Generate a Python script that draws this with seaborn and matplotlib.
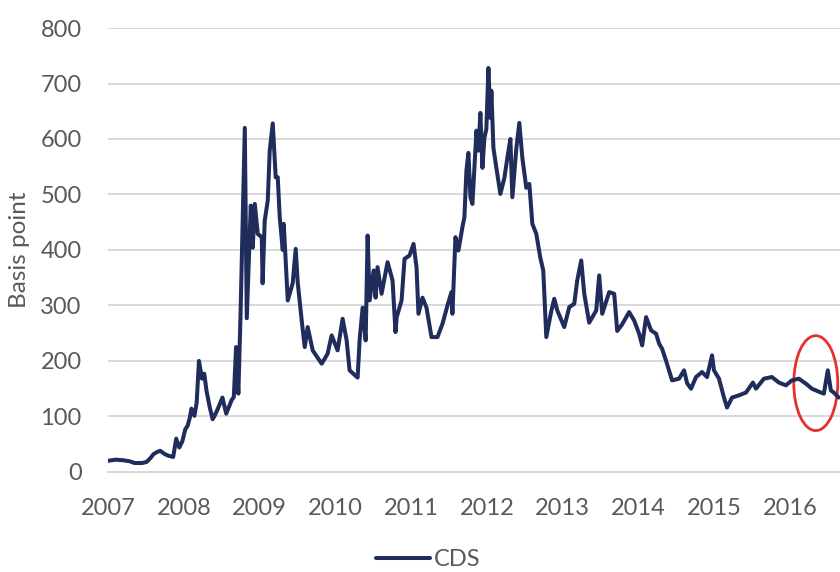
import matplotlib
matplotlib.use("Agg")
import matplotlib.pyplot as plt
from matplotlib.patches import Ellipse
import seaborn as sns
import pandas as pd

# CDS spread (decimal year, basis points)
years = [
    2007.00, 2007.10, 2007.20, 2007.29, 2007.35, 2007.45, 2007.51, 2007.56, 2007.60, 2007.65,
    2007.69, 2007.75, 2007.80, 2007.86, 2007.90, 2007.94, 2007.98, 2008.02, 2008.05, 2008.08,
    2008.10, 2008.14, 2008.17, 2008.20, 2008.24, 2008.27, 2008.30, 2008.34, 2008.38, 2008.41,
    2008.45, 2008.51, 2008.56, 2008.63, 2008.66, 2008.69, 2008.72, 2008.75, 2008.765, 2008.805,
    2008.831, 2008.884, 2008.910, 2008.937, 2008.976, 2009.029, 2009.040, 2009.068, 2009.108, 2009.134,
    2009.174, 2009.213, 2009.240, 2009.266, 2009.306, 2009.319, 2009.372, 2009.437, 2009.477, 2009.503,
    2009.556, 2009.596, 2009.635, 2009.701, 2009.820, 2009.898, 2009.951, 2010.030, 2010.096, 2010.149,
    2010.188, 2010.294, 2010.320, 2010.360, 2010.400, 2010.426, 2010.452, 2010.505, 2010.531, 2010.557,
    2010.610, 2010.689, 2010.755, 2010.794, 2010.810, 2010.874, 2010.913, 2010.979, 2011.032, 2011.071,
    2011.097, 2011.150, 2011.203, 2011.269, 2011.348, 2011.414, 2011.480, 2011.532, 2011.545, 2011.585,
    2011.624, 2011.677, 2011.703, 2011.730, 2011.756, 2011.783, 2011.809, 2011.835, 2011.862, 2011.888,
    2011.914, 2011.941, 2011.967, 2011.993, 2012.020, 2012.046, 2012.059, 2012.086, 2012.125, 2012.178,
    2012.231, 2012.270, 2012.310, 2012.336, 2012.389, 2012.428, 2012.468, 2012.520, 2012.560, 2012.600,
    2012.652, 2012.705, 2012.744, 2012.784, 2012.850, 2012.889, 2012.929, 2013.021, 2013.087, 2013.153,
    2013.192, 2013.245, 2013.285, 2013.350, 2013.443, 2013.482, 2013.522, 2013.614, 2013.680, 2013.720,
    2013.785, 2013.877, 2013.943, 2014.009, 2014.049, 2014.101, 2014.167, 2014.233, 2014.273, 2014.312,
    2014.365, 2014.404, 2014.444, 2014.536, 2014.602, 2014.642, 2014.694, 2014.760, 2014.839, 2014.905,
    2014.971, 2014.997, 2015.063, 2015.129, 2015.169, 2015.235, 2015.327, 2015.419, 2015.511, 2015.551,
    2015.656, 2015.761, 2015.854, 2015.946, 2016.025, 2016.117, 2016.210, 2016.289, 2016.407, 2016.447,
    2016.499, 2016.539, 2016.578, 2016.644,
]
cds = [
    20, 22, 21, 19, 16, 16, 18, 25, 32, 36,
    38, 32, 29, 27, 60, 44, 55, 77, 83, 98,
    114, 101, 125, 200, 168, 177, 146, 118, 95, 102,
    114, 134, 105, 129, 135, 225, 141, 290, 381, 620,
    277, 480, 404, 483, 429, 423, 340, 453, 489, 579,
    628, 531, 531, 459, 400, 447, 309, 340, 402, 342,
    273, 225, 261, 219, 195, 213, 246, 219, 276, 237,
    183, 170, 237, 296, 237, 426, 309, 363, 314, 369,
    321, 378, 345, 252, 279, 309, 384, 390, 411, 369,
    285, 314, 296, 243, 243, 267, 300, 324, 285, 423,
    399, 441, 459, 543, 575, 495, 483, 548, 615, 579,
    647, 548, 602, 618, 728, 638, 687, 584, 548, 501,
    530, 566, 600, 495, 584, 629, 566, 512, 519, 447,
    429, 386, 363, 243, 290, 312, 291, 261, 297, 303,
    345, 381, 321, 269, 291, 354, 285, 324, 321, 254,
    266, 288, 273, 249, 228, 279, 255, 249, 231, 222,
    200, 183, 165, 168, 183, 160, 150, 171, 180, 171,
    210, 183, 168, 134, 116, 134, 138, 143, 161, 150,
    168, 171, 161, 156, 165, 168, 159, 150, 143, 141,
    183, 147, 143, 134,
]
year_ticks = list(range(2007, 2017))
y_ticks = [0, 100, 200, 300, 400, 500, 600, 700, 800]

df = pd.DataFrame({"year": years, "CDS": cds})

sns.set_style("white")
plt.rcParams["font.family"] = ["Lato", "DejaVu Sans"]

navy = "#1f2c5c"
grey_txt = "#595959"
grid_col = "#d9d9d9"

fig = plt.figure(figsize=(8.4, 5.72), dpi=100)
ax = fig.add_axes([0.1286, 0.175, 0.8714, 0.776])

sns.lineplot(data=df, x="year", y="CDS", color=navy, linewidth=2.9, ax=ax, label="CDS", legend=False)

ax.set_xlim(2007, 2016.66)
ax.set_ylim(0, 800)
ax.set_xticks(year_ticks)
ax.set_xticklabels([str(y) for y in year_ticks])
ax.set_yticks(y_ticks)
ax.yaxis.grid(True, color=grid_col, linewidth=1.4)
ax.set_axisbelow(True)

for s in ["top", "right", "left"]:
    ax.spines[s].set_visible(False)
ax.spines["bottom"].set_color(grid_col)
ax.spines["bottom"].set_linewidth(1.4)

ax.tick_params(axis="y", length=0, pad=19, labelsize=17, labelcolor=grey_txt)
ax.tick_params(axis="x", length=6.5, width=1.4, color=grid_col, pad=12, labelsize=17, labelcolor=grey_txt)

ax.set_xlabel("")
ax.set_ylabel("Basis point", fontsize=17.5, color=grey_txt)
ax.yaxis.set_label_coords(-0.107, 0.5)

# red circle marking the 2016 episode
ell = Ellipse((2016.34, 160), width=0.58, height=171, fill=False,
              edgecolor="#e8302a", linewidth=2.0, clip_on=False)
ax.add_patch(ell)

handles, labels = ax.get_legend_handles_labels()
fig.legend(handles, labels, loc="center", bbox_to_anchor=(0.51, 0.022), frameon=False,
           fontsize=17, labelcolor=grey_txt, handlelength=2.3, handletextpad=0.15)

fig.savefig("out.png", dpi=100)
plt.close()
